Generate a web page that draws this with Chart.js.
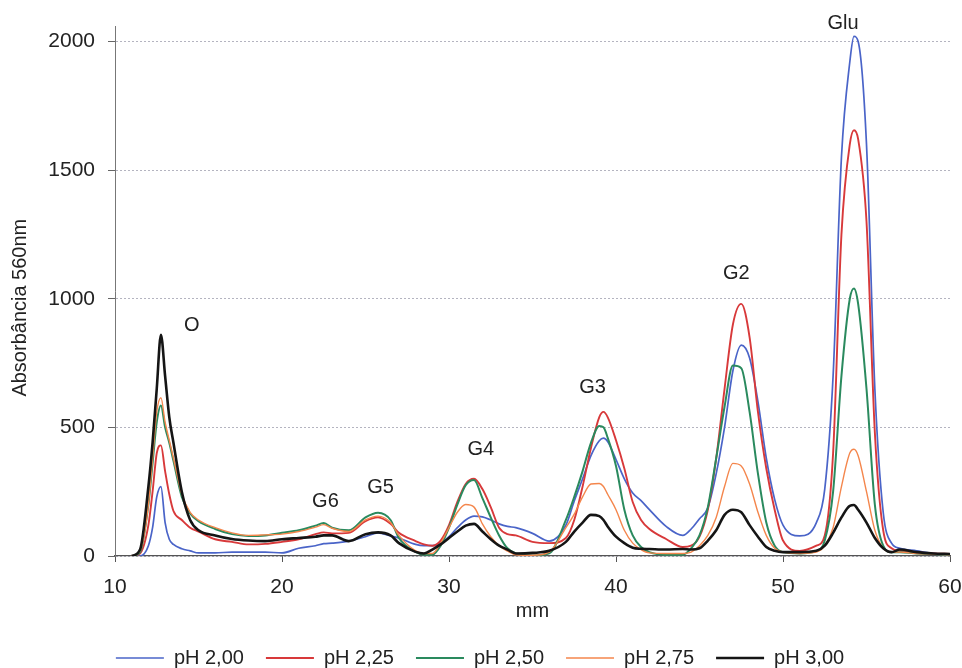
<!DOCTYPE html>
<html>
<head>
<meta charset="utf-8">
<script src="https://cdn.jsdelivr.net/npm/chart.js@4.4.1/dist/chart.umd.min.js"></script>
<style>
  body { margin: 0; background: #fff; }
  #wrap { width: 962px; height: 668px; }
</style>
</head>
<body>
<div id="wrap"><canvas id="chromChart" width="962" height="668"></canvas></div>
<script>
// distance along the plate (mm), shared by all series
const mm = [
  11, 11.5, 12, 12.25, 12.5, 12.75, 13, 13.25, 13.5, 14,
  14.5, 15, 16, 17, 18, 19, 20, 21, 22, 22.5,
  23, 24, 25, 25.75, 26.5, 27, 28, 28.5, 29, 29.5,
  30, 30.5, 31, 31.5, 32, 32.5, 33, 33.5, 34, 35,
  36, 37, 37.5, 38, 38.5, 39, 39.25, 39.5, 40, 40.5,
  41, 41.5, 42, 43, 44, 44.5, 45, 45.5, 46, 46.5,
  47, 47.5, 48, 48.5, 49, 49.5, 50, 51, 52, 52.5,
  53, 53.5, 54, 54.25, 54.5, 55, 55.5, 56, 56.5, 57,
  58, 59, 60
];

const ph200 = [
  0, 0, 40, 110, 230, 270, 130, 65, 45, 28,
  20, 12, 12, 15, 15, 15, 12, 30, 40, 48,
  50, 58, 75, 90, 78, 70, 45, 40, 40, 50,
  75, 110, 140, 155, 152, 140, 125, 115, 110, 88,
  58, 120, 214, 300, 390, 448, 458, 445, 375, 300,
  245, 215, 180, 115, 80, 105, 145, 187, 320, 500,
  720, 820, 770, 600, 380, 220, 120, 78, 130, 260,
  700, 1550, 1920, 2020, 2000, 1600, 650, 170, 50, 30,
  20, 10, 5
];

const ph225 = [
  0, 10, 120, 250, 400, 430, 330, 240, 175, 140,
  110, 95, 65, 55, 45, 47, 55, 65, 85, 92,
  88, 90, 135, 150, 125, 90, 58, 45, 40, 60,
  120, 210, 280, 300, 260, 190, 110, 85, 80, 55,
  50, 70, 140, 270, 420, 540, 560, 540, 450, 340,
  210, 140, 105, 66, 35, 40, 75, 180, 380, 650,
  900, 980, 850, 560, 340, 180, 60, 20, 40, 80,
  400, 1250, 1600, 1655, 1620, 1300, 480, 100, 30, 20,
  15, 10, 8
];

const ph250 = [
  0, 15, 200, 360, 520, 585, 500, 440, 370, 230,
  165, 135, 105, 85, 78, 80, 90, 100, 118, 128,
  110, 100, 150, 168, 140, 70, 16, 5, 5, 40,
  110, 200, 275, 295, 225, 150, 80, 30, 10, 2,
  10, 140, 230, 330, 440, 505, 500, 460, 350, 180,
  80, 35, 15, 5, 5, 30, 80, 190, 380, 580,
  740, 730, 560, 320, 130, 40, 15, 10, 20, 60,
  250, 700, 1000, 1040, 980, 650, 200, 40, 15, 15,
  10, 8, 5
];

const ph275 = [
  0, 20, 200, 380, 560, 615, 520, 450, 380, 240,
  170, 140, 110, 90, 80, 82, 85, 95, 112, 122,
  108, 95, 140, 155, 130, 80, 20, 10, 10, 50,
  110, 170, 200, 190, 125, 75, 40, 19, 5, 3,
  15, 110, 163, 230, 280, 282, 270, 240, 180, 100,
  50, 25, 12, 10, 10, 15, 40, 80, 150, 270,
  360, 350, 280, 170, 80, 30, 15, 10, 15, 40,
  110, 270, 400, 415, 390, 250, 100, 30, 15, 15,
  10, 8, 5
];

const ph300 = [
  0, 25, 270, 440, 650, 860, 700, 540, 440, 250,
  140, 100, 80, 66, 60, 58, 65, 70, 75, 80,
  80, 58, 85, 92, 80, 50, 16, 10, 25, 45,
  70, 95, 118, 125, 95, 65, 40, 25, 10, 12,
  20, 55, 95, 130, 160, 155, 140, 115, 75, 50,
  32, 28, 27, 25, 27, 25, 30, 60, 100, 160,
  180, 170, 120, 75, 35, 20, 15, 15, 20, 40,
  90, 150, 195, 198, 180, 130, 70, 30, 15, 25,
  15, 10, 8
];

const seriesNames = ["pH 2,00", "pH 2,25", "pH 2,50", "pH 2,75", "pH 3,00"];
const seriesColors = ["#4a64c8", "#d8393a", "#2a8a5e", "#f4864c", "#151515"];
const seriesWidths = [1.7, 1.9, 2, 1.4, 2.6];

// peak labels (position in data units)
const peakNames = ["O", "G6", "G5", "G4", "G3", "G2", "Glu"];
const peakX = [14.6, 22.6, 25.9, 31.9, 38.6, 47.2, 53.6];
const peakY = [895, 210, 265, 415, 655, 1100, 2070];

const yTicks = [0, 500, 1000, 1500, 2000];

const allSeries = [ph200, ph225, ph250, ph275, ph300];

const FONT = "'Liberation Sans', Arial, sans-serif";

const peakLabels = {
  id: "peakLabels",
  afterDatasetsDraw(chart) {
    const ctx = chart.ctx;
    const xs = chart.scales.x;
    const ys = chart.scales.y;
    ctx.save();
    ctx.font = "20px " + FONT;
    ctx.fillStyle = "#222";
    ctx.textAlign = "center";
    ctx.textBaseline = "middle";
    peakNames.forEach((name, i) => {
      ctx.fillText(name, xs.getPixelForValue(peakX[i]), ys.getPixelForValue(peakY[i]));
    });
    ctx.restore();
  },
};

const ctx = document.getElementById("chromChart").getContext("2d");
const chromChart = new Chart(ctx, {
  type: "line",
  data: {
    datasets: allSeries.map((vals, i) => ({
      label: seriesNames[i],
      data: vals.map((v, j) => ({ x: mm[j], y: v })),
      borderColor: seriesColors[i],
      backgroundColor: seriesColors[i],
      borderWidth: seriesWidths[i],
      pointRadius: 0,
      tension: 0.3,
      cubicInterpolationMode: "monotone",
      // black trace drawn on top
      order: i === 4 ? 0 : 5 - i,
    })),
  },
  options: {
    responsive: false,
    animation: false,
    layout: { padding: { top: 26, right: 2, bottom: -10, left: 0 } },
    plugins: {
      tooltip: { enabled: false },
      legend: {
        position: "bottom",
        labels: {
          usePointStyle: true,
          pointStyle: "line",
          pointStyleWidth: 48,
          color: "#222",
          padding: 22,
          font: { family: FONT, size: 20 },
          sort: (a, b) => a.datasetIndex - b.datasetIndex,
        },
      },
    },
    scales: {
      x: {
        type: "linear",
        min: 10,
        max: 60,
        afterFit: (scale) => {
          scale.height = 70;
          scale.paddingRight = 12;
        },
        ticks: {
          stepSize: 10,
          color: "#222",
          padding: 13,
          font: { family: FONT, size: 21 },
        },
        title: {
          display: true,
          text: "mm",
          color: "#222",
          padding: { top: 0, bottom: 3 },
          font: { family: FONT, size: 20 },
        },
        grid: { drawOnChartArea: false, tickLength: 6, tickColor: "#555" },
        border: { color: "#555", width: 1.2 },
      },
      y: {
        min: 0,
        max: 2060,
        afterBuildTicks: (scale) => {
          scale.ticks = yTicks.map((v) => ({ value: v }));
        },
        afterFit: (scale) => {
          scale.width = 115;
        },
        ticks: {
          color: "#222",
          padding: 13,
          font: { family: FONT, size: 21 },
          callback: (v) => String(v),
        },
        title: {
          display: true,
          text: "Absorbância 560nm      ",
          color: "#222",
          padding: { top: 8, bottom: 4 },
          font: { family: FONT, size: 20 },
        },
        grid: { color: "#b4b4c0", tickLength: 7, tickColor: "#666" },
        border: { color: "#777", width: 1, dash: [2, 2] },
      },
    },
  },
  plugins: [peakLabels],
});
</script>
</body>
</html>
